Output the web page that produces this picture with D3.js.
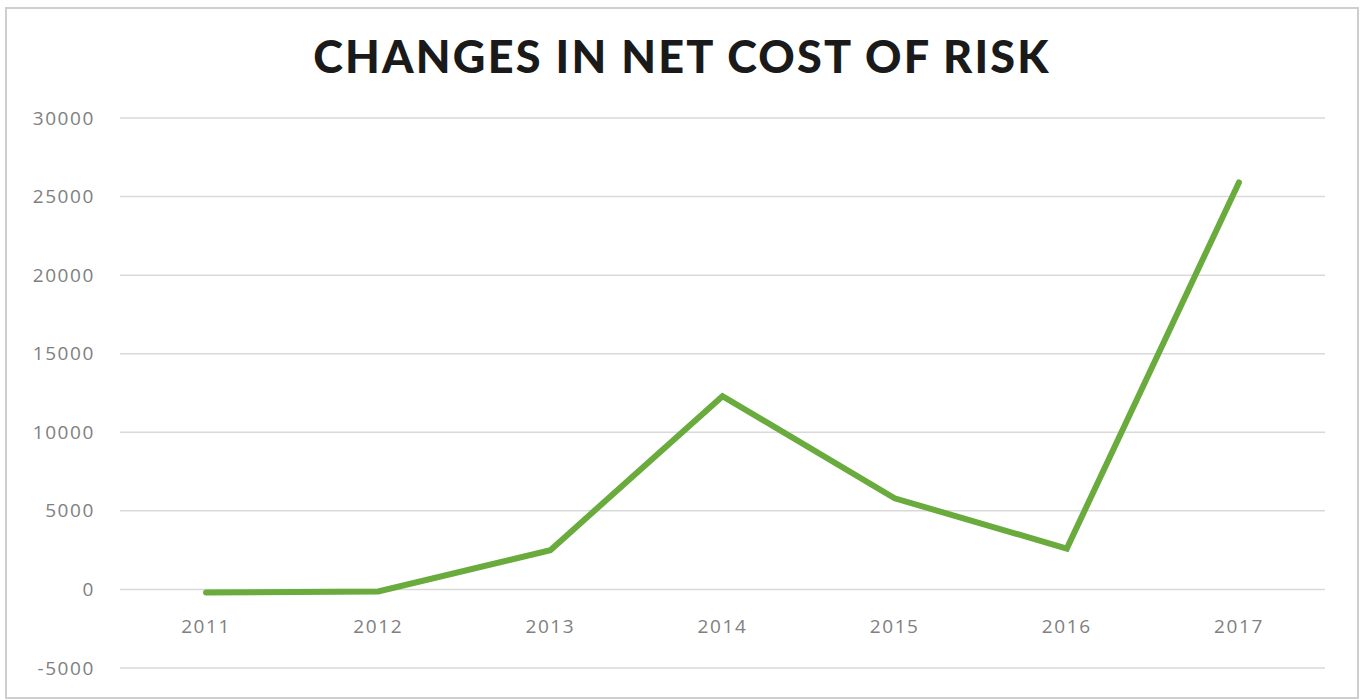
<!DOCTYPE html>
<html>
<head>
<meta charset="utf-8">
<script src="https://cdn.jsdelivr.net/npm/d3@7"></script>
<style>
  html, body { margin: 0; padding: 0; background: #fff; }
  svg { display: block; }
</style>
</head>
<body>
<svg id="chart" width="1365" height="700"></svg>
<script>
// Net cost of risk by year
const years = ["2011", "2012", "2013", "2014", "2015", "2016", "2017"];
const costOfRisk = [-200, -130, 2500, 12300, 5800, 2600, 25900];
const yTicks = [-5000, 0, 5000, 10000, 15000, 20000, 25000, 30000];
const chartTitle = "CHANGES IN NET COST OF RISK";

const svg = d3.select("#chart");
const W = 1365, H = 700;
const margin = { left: 120, right: 40, top: 118, bottom: 32 };
const labelFont = "'Open Sans', sans-serif";

// outer frame
svg.append("rect")
  .attr("x", 6).attr("y", 8)
  .attr("width", W - 13).attr("height", H - 10)
  .attr("fill", "#fff")
  .attr("stroke", "#cfcfcf").attr("stroke-width", 2);

const x = d3.scaleBand()
  .domain(years)
  .range([margin.left, W - margin.right]);

const y = d3.scaleLinear()
  .domain([-5000, 30000])
  .range([668, 118]);

// horizontal gridlines
svg.append("g")
  .selectAll("line")
  .data(yTicks)
  .join("line")
  .attr("x1", margin.left).attr("x2", W - margin.right)
  .attr("y1", d => y(d)).attr("y2", d => y(d))
  .attr("stroke", "#d9d9d9").attr("stroke-width", 1.5);

// y axis labels
const yAxis = d3.axisLeft(y).tickValues(yTicks).tickSize(0).tickPadding(0)
  .tickFormat(d => String(d));
svg.append("g")
  .attr("transform", "translate(95,0)")
  .call(yAxis)
  .call(g => g.select(".domain").remove())
  .call(g => g.selectAll("text")
    .attr("fill", "#808080")
    .attr("font-family", labelFont)
    .attr("font-size", 19)
    .attr("letter-spacing", 1.6));

// x axis labels
const xAxis = d3.axisBottom(x).tickSize(0).tickPadding(0);
svg.append("g")
  .attr("transform", "translate(0,619)")
  .call(xAxis)
  .call(g => g.select(".domain").remove())
  .call(g => g.selectAll("text")
    .attr("fill", "#808080")
    .attr("font-family", labelFont)
    .attr("font-size", 19)
    .attr("letter-spacing", 1.6));

// data line
const line = d3.line()
  .x((d, i) => x(years[i]) + x.bandwidth() / 2)
  .y(d => y(d));

svg.append("path")
  .datum(costOfRisk)
  .attr("d", line)
  .attr("fill", "none")
  .attr("stroke", "#6aab3d")
  .attr("stroke-width", 6)
  .attr("stroke-linejoin", "miter")
  .attr("stroke-linecap", "round");

// title
svg.append("text")
  .attr("x", 682).attr("y", 73)
  .attr("text-anchor", "middle")
  .attr("font-family", "Lato, 'Open Sans', sans-serif")
  .attr("font-weight", 900)
  .attr("font-size", 45)
  .attr("letter-spacing", 2.2)
  .attr("fill", "#1a1a1a")
  .text(chartTitle);
</script>
</body>
</html>
